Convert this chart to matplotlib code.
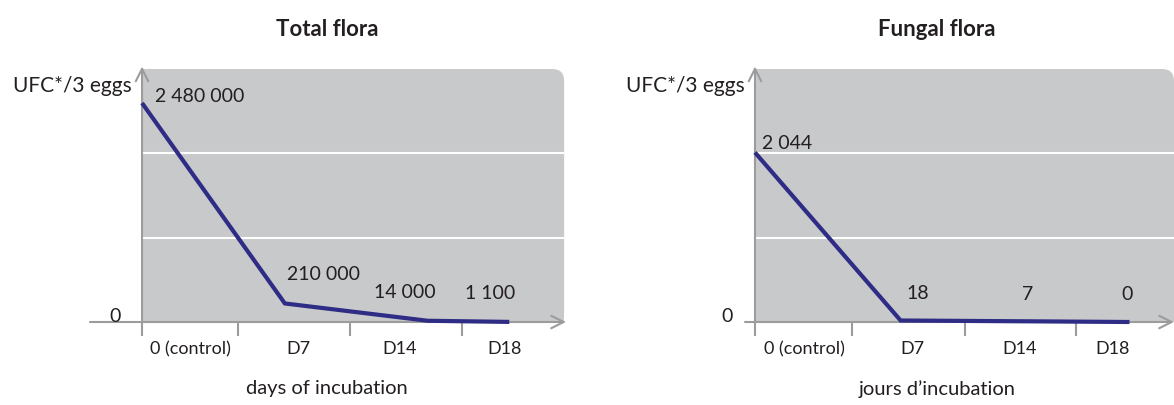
import matplotlib
matplotlib.use("Agg")
import matplotlib.pyplot as plt
from matplotlib.patches import FancyBboxPatch, Rectangle

# data
categories = ["0 (control)", "D7", "D14", "D18"]
days = [0, 7, 14, 18]
total_flora = [2480000, 210000, 14000, 1100]
total_labels = ["2 480 000", "210 000", "14 000", "1 100"]
fungal_flora = [2044, 18, 7, 0]
fungal_labels = ["2 044", "18", "7", "0"]

plt.rcParams["font.family"] = ["Lato", "DejaVu Sans"]

W, H = 1174, 406
GRAY = "#c8c9cb"
AXIS = "#9c9c9c"
LINE = "#2e2c85"
TXT = "#231f20"

fig = plt.figure(figsize=(W / 100, H / 100), dpi=100)


def px_axes(x0, x1, ytop, ybot):
    return fig.add_axes([x0 / W, (H - ybot) / H, (x1 - x0) / W, (ybot - ytop) / H])


def draw_panel(ax, ymax, xlim, gray_right, tick_pos, label_pos, values, labels,
               offsets, title, xlabel, cx, ax_px, zero_x):
    ax.set_xlim(*xlim)
    ax.set_ylim(0, ymax)
    for s in ax.spines.values():
        s.set_visible(False)
    ax.set_yticks([])

    # grey background with rounded top-right corner
    wpx, hpx = ax_px
    x0 = (0 - xlim[0]) / (xlim[1] - xlim[0])
    x1 = (gray_right - xlim[0]) / (xlim[1] - xlim[0])
    r = 12
    ax.add_patch(FancyBboxPatch((x0, 0), x1 - x0, 1, transform=ax.transAxes,
                                boxstyle=f"round,pad=0,rounding_size={r / wpx}",
                                mutation_aspect=wpx / hpx, fc=GRAY, ec="none",
                                zorder=0, clip_on=False))
    ax.add_patch(Rectangle((x0, 0), x1 - x0 - r / wpx, 1, transform=ax.transAxes,
                           fc=GRAY, ec="none", zorder=0, clip_on=False))
    ax.add_patch(Rectangle((x0, 0), x1 - x0, 1 - r / hpx, transform=ax.transAxes,
                           fc=GRAY, ec="none", zorder=0, clip_on=False))

    for g in (ymax / 3, 2 * ymax / 3):
        ax.plot([0, gray_right], [g, g], color="white", lw=1.5, zorder=1,
                clip_on=False, solid_capstyle="butt")

    # axes with open arrow heads
    ax.annotate("", xy=(xlim[1], 0), xytext=(xlim[0], 0),
                arrowprops=dict(arrowstyle="->,head_length=0.9,head_width=0.45",
                                color=AXIS, lw=1.5, shrinkA=0, shrinkB=0),
                annotation_clip=False, zorder=2)
    ax.annotate("", xy=(0, ymax * 1.01), xytext=(0, 0),
                arrowprops=dict(arrowstyle="->,head_length=0.9,head_width=0.45",
                                color=AXIS, lw=1.5, shrinkA=0, shrinkB=0),
                annotation_clip=False, zorder=2)

    ax.set_xticks(tick_pos)
    ax.set_xticklabels([])
    ax.tick_params(axis="x", which="major", length=10, width=1.5, color=AXIS,
                   direction="out")
    ax.set_xticks(label_pos, minor=True)
    ax.set_xticklabels(categories, minor=True, fontsize=13, color=TXT)
    ax.tick_params(axis="x", which="minor", length=0, pad=13)

    ax.annotate("0", xy=(zero_x, 0), xytext=(0, 6), textcoords="offset pixels",
                fontsize=14, color=TXT, ha="center", va="center",
                annotation_clip=False)
    ax.annotate("UFC*/3 eggs", xy=(0, ymax), xytext=(-10, -16),
                textcoords="offset pixels", ha="right", va="center",
                fontsize=15, color=TXT, annotation_clip=False)

    ax.plot(days, values, color=LINE, lw=3, zorder=3, clip_on=False,
            solid_capstyle="butt", solid_joinstyle="miter")
    for d, v, lab, (dx, dy) in zip(days, values, labels, offsets):
        ax.annotate(lab, xy=(d, v), xytext=(dx, dy), textcoords="offset pixels",
                    ha="center", va="center", fontsize=14, color=TXT,
                    annotation_clip=False)

    fig.text(cx / W, (H - 30) / H, title, ha="center", va="center",
             fontsize=16, fontweight="bold", color=TXT)
    fig.text(cx / W, (H - 389) / H, xlabel, ha="center", va="center",
             fontsize=14.5, color=TXT)


# left panel: total flora
ax1 = px_axes(90, 566, 70, 323)
draw_panel(ax1, ymax=2480000 * 253 / 219, xlim=(-2.55, 20.78), gray_right=20.69,
           tick_pos=[0, 4.7, 10.2, 15.7], label_pos=[2.35, 7.65, 12.65, 17.75],
           values=total_flora, labels=total_labels,
           offsets=[(58, 8), (39, 30), (-23, 29), (-19, 29)],
           title="Total flora", xlabel="days of incubation", cx=327,
           ax_px=(476, 253), zero_x=-1.3)

# right panel: fungal flora
ax2 = px_axes(745, 1174, 70, 323)
draw_panel(ax2, ymax=2044 * 3 / 2 * 0.995, xlim=(-0.48, 20.14), gray_right=20.14,
           tick_pos=[0, 4.66, 10.1, 15.43], label_pos=[2.4, 7.55, 12.74, 17.2],
           values=fungal_flora, labels=fungal_labels,
           offsets=[(32, 10), (17, 28), (-19, 28), (-2, 28)],
           title="Fungal flora", xlabel="jours d\u2019incubation", cx=937,
           ax_px=(429, 253), zero_x=-1.35)

fig.savefig("out.png", dpi=100)
